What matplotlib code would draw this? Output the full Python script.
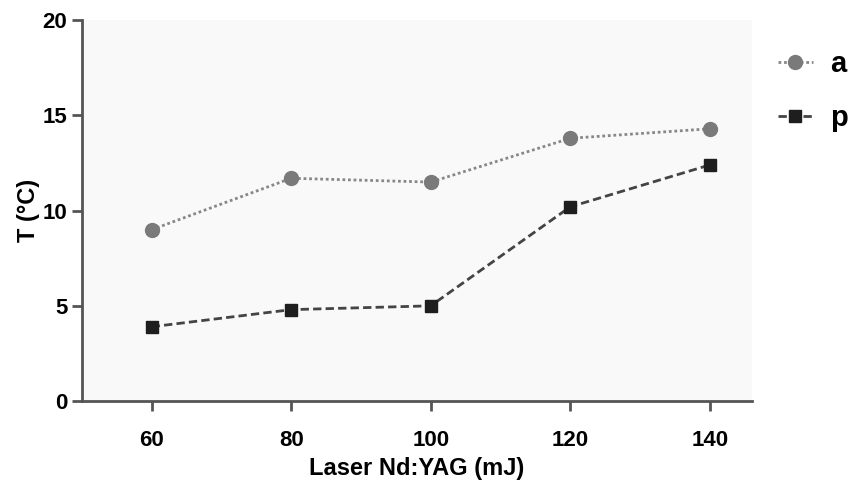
import matplotlib
matplotlib.use("Agg")
import matplotlib.pyplot as plt

plt.rcParams["font.family"] = ["Liberation Sans", "DejaVu Sans"]
plt.rcParams["font.weight"] = "bold"

energy = [60, 80, 100, 120, 140]
temp_a = [9.0, 11.7, 11.5, 13.8, 14.3]
temp_p = [3.9, 4.8, 5.0, 10.2, 12.4]

fig = plt.figure(figsize=(8.62, 4.82), dpi=100)
ax = fig.add_axes([0.095, 0.168, 0.777, 0.79])
ax.set_facecolor("#f9f9f9")

ax.plot(energy, temp_a, linestyle=(0, (1, 1)), color="#888888", linewidth=2,
        marker="o", markersize=10, markerfacecolor="#7a7a7a", markeredgecolor="#7a7a7a", label="a")
ax.plot(energy, temp_p, linestyle=(0, (3, 1.5)), color="#444444", linewidth=2,
        marker="s", markersize=9, markerfacecolor="#1e1e1e", markeredgecolor="#1e1e1e", label="p")

ax.set_xlim(50, 146)
ax.set_ylim(0, 20)
ax.set_xticks(energy)
ax.set_yticks([0, 5, 10, 15, 20])

for s in ["top", "right"]:
    ax.spines[s].set_visible(False)
for s in ["left", "bottom"]:
    ax.spines[s].set_linewidth(2)
    ax.spines[s].set_color("#555555")
ax.tick_params(width=2, length=7, color="#555555", labelsize=16)
ax.tick_params(axis="x", pad=14)

ax.set_xlabel("Laser Nd:YAG (mJ)", fontsize=17, fontweight="bold", labelpad=4)
ax.set_ylabel("T (°C)", fontsize=17, fontweight="bold")
ax.yaxis.set_label_coords(-0.062, 0.5)

fig.legend(loc="upper left", bbox_to_anchor=(778 / 862, 1 - 50 / 482), frameon=False,
           fontsize=21, handlelength=1.2, labelspacing=0.9, handletextpad=0.6,
           borderaxespad=0, borderpad=0)

fig.savefig("out.png", dpi=100)
